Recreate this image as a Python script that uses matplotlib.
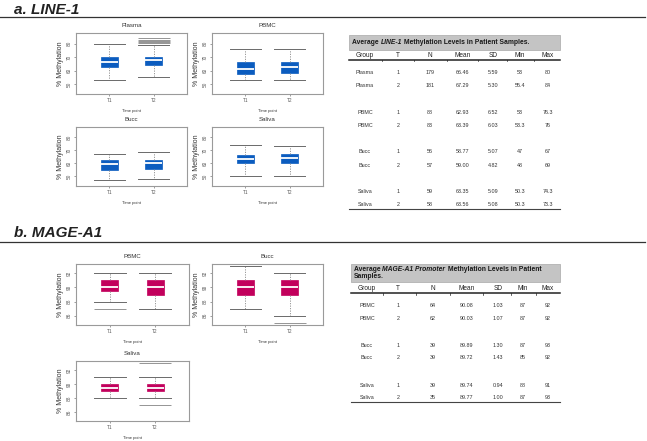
import matplotlib
matplotlib.use("Agg")
import matplotlib.pyplot as plt

W, H = 647, 441
plt.rcParams["font.family"] = ["Liberation Sans", "DejaVu Sans"]

timepoints = ["T1", "T2"]

# LINE-1 box summaries, one [T1, T2] pair per tissue
line1_tissues = ["Plasma", "PBMC", "Bucc", "Saliva"]
line1_whislo = [[53, 55], [53, 53.3], [47, 47.7], [50, 50]]
line1_q1 = [[62.5, 64], [57.5, 58.5], [55, 55.5], [60, 60.3]]
line1_med = [[66.5, 67.5], [61, 62.5], [59.5, 60.5], [63.5, 64]]
line1_q3 = [[70, 70], [66, 66.5], [62.5, 62.7], [66.7, 67.2]]
line1_whishi = [[80, 79.3], [76, 76], [67, 69], [74.5, 73.3]]
line1_fliers = [[[], [80.3, 81.2, 82.1, 83, 84]], [[], []], [[], []], [[], []]]

# MAGE-A1 box summaries
mage_tissues = ["PBMC", "Bucc", "Saliva"]
mage_whislo = [[88, 87], [87, 86], [88, 88]]
mage_q1 = [[89.5, 89], [89, 89], [89, 89]]
mage_med = [[90, 90], [90, 90], [89.5, 89.5]]
mage_q3 = [[91, 91], [91, 91], [90, 90]]
mage_whishi = [[92, 92], [93, 92], [91, 91]]
mage_fliers = [[[87], []], [[], [85]], [[], [87, 93]]]

# tables
table_cols = ["Group", "T", "N", "Mean", "SD", "Min", "Max"]
line1_rows = [
    ["Plasma", "1", "179", "66.46", "5.59", "53", "80"],
    ["Plasma", "2", "181", "67.29", "5.30", "55.4", "84"],
    ["PBMC", "1", "88", "62.93", "6.52", "53", "76.3"],
    ["PBMC", "2", "83", "63.39", "6.03", "53.3", "76"],
    ["Bucc", "1", "56", "58.77", "5.07", "47", "67"],
    ["Bucc", "2", "57", "59.00", "4.82", "48", "69"],
    ["Saliva", "1", "59", "63.35", "5.09", "50.3", "74.3"],
    ["Saliva", "2", "58", "63.56", "5.08", "50.3", "73.3"],
]
mage_rows = [
    ["PBMC", "1", "64", "90.08", "1.03", "87", "92"],
    ["PBMC", "2", "62", "90.03", "1.07", "87", "92"],
    ["Bucc", "1", "39", "89.89", "1.30", "87", "93"],
    ["Bucc", "2", "39", "89.72", "1.43", "85", "92"],
    ["Saliva", "1", "39", "89.74", "0.94", "88", "91"],
    ["Saliva", "2", "35", "89.77", "1.00", "87", "93"],
]

BLUE = "#0b5cbf"
MAGENTA = "#c2005c"
XLIM = (0.25, 2.75)
CAPW = 0.7

fig = plt.figure(figsize=(W / 100, H / 100), dpi=100)
ov = fig.add_axes([0, 0, 1, 1])
ov.set_xlim(0, W)
ov.set_ylim(H, 0)
ov.axis("off")
renderer = fig.canvas.get_renderer()


def px_axes(x0, y0, x1, y1):
    return fig.add_axes([x0 / W, 1 - y1 / H, (x1 - x0) / W, (y1 - y0) / H])


def box_panel(rect, title, color, lo, q1, med, q3, hi, fl, ylim, yticks):
    ax = px_axes(*rect)
    stats = [dict(whislo=lo[i], q1=q1[i], med=med[i], q3=q3[i], whishi=hi[i], fliers=fl[i])
             for i in range(2)]
    frame_px = rect[2] - rect[0]
    msize = CAPW * frame_px / (XLIM[1] - XLIM[0]) * 0.72
    ax.bxp(stats, positions=[1, 2], widths=0.38, patch_artist=True, capwidths=CAPW,
           boxprops=dict(facecolor=color, edgecolor=color, linewidth=0.5),
           medianprops=dict(color="white", linewidth=1.3),
           whiskerprops=dict(color="#8a8a8a", linestyle=(0, (1.5, 1.5)), linewidth=0.6),
           capprops=dict(color="#6a6a6a", linewidth=0.7),
           flierprops=dict(marker="_", markersize=msize, markeredgecolor="#6a6a6a",
                           markeredgewidth=0.5))
    ax.set_xlim(*XLIM)
    ax.set_ylim(*ylim)
    ax.set_yticks(yticks)
    ax.set_yticklabels([str(v) for v in yticks], rotation=90, va="center")
    ax.set_xticks([1, 2])
    ax.set_xticklabels(timepoints)
    ax.tick_params(labelsize=3.4, length=1.5, width=0.4, colors="#555555", pad=1.5)
    for s in ax.spines.values():
        s.set_color("#9a9a9a")
        s.set_linewidth(0.8)
    ax.set_title(title, fontsize=4.4, color="#333333", pad=4)
    ax.set_ylabel("% Methylation", fontsize=5, color="#333333", labelpad=2)
    ax.set_xlabel("Time point", fontsize=3, color="#333333", labelpad=4)
    return ax


# section headings
ov.text(14, 14, "a. LINE-1", fontsize=11, fontweight="bold", fontstyle="italic",
        color="#222222", va="baseline")
ov.plot([0, 645], [16.5, 16.5], color="#333333", lw=0.9)
ov.text(14, 237, "b. MAGE-A1", fontsize=11, fontweight="bold", fontstyle="italic",
        color="#222222", va="baseline")
ov.plot([0, 645], [241.5, 241.5], color="#333333", lw=0.9)

line1_rects = [(76, 33, 187, 94), (212, 33, 323, 94), (76, 127, 187, 186), (212, 127, 323, 186)]
for i, name in enumerate(line1_tissues):
    box_panel(line1_rects[i], name, BLUE, line1_whislo[i], line1_q1[i], line1_med[i],
              line1_q3[i], line1_whishi[i], line1_fliers[i], (42.5, 88), [50, 60, 70, 80])

mage_rects = [(76, 264, 189, 325), (212, 264, 323, 325), (76, 361, 189, 421)]
for i, name in enumerate(mage_tissues):
    box_panel(mage_rects[i], name, MAGENTA, mage_whislo[i], mage_q1[i], mage_med[i],
              mage_q3[i], mage_whishi[i], mage_fliers[i], (84.68, 93.32), [86, 88, 90, 92])


def run_text(x, y, pieces, **kw):
    # place styled pieces one after another on the same baseline
    for s, style in pieces:
        t = ov.text(x, y, s, fontstyle=style, **kw)
        x += t.get_window_extent(renderer).width


def draw_table(x0, x1, band_top, band_bot, title_lines, head_y, rows_y, bottom_y,
               col_x, rows):
    ov.fill_between([x0, x1], band_top, band_bot, color="#c4c4c4", ec="#a8a8a8", lw=0.5)
    for ly, pieces in title_lines:
        run_text(x0 + 3, ly, pieces, fontsize=4.85, fontweight="bold", color="#1a1a1a",
                 va="center")
    for cx, c in zip(col_x, table_cols):
        ov.text(cx, head_y, c, fontsize=4.7, ha="center", va="center", color="#222222")
    line_y = head_y + 4.5
    ov.plot([x0, x1], [line_y, line_y], color="#222222", lw=1.1)
    for a, b in zip(col_x[:-1], col_x[1:]):
        m = (a + b) / 2
        ov.plot([m, m], [line_y, line_y + 1.5], color="#222222", lw=0.5)
    for ry, row in zip(rows_y, rows):
        for cx, v in zip(col_x, row):
            ov.text(cx, ry, v, fontsize=3.9, ha="center", va="center", color="#333333")
    ov.plot([x0, x1], [bottom_y, bottom_y], color="#444444", lw=0.8)


line1_row_y = [72.3 + 13.3 * i + 13.2 * (i // 2) for i in range(len(line1_rows))]
draw_table(349, 560, 35, 49.5,
           [(42.5, [("Average ", "normal"), ("LINE-1", "italic"),
                    (" Methylation Levels in Patient Samples.", "normal")])],
           55.3, line1_row_y, 208.7, [365, 398, 430, 463, 493, 520, 548], line1_rows)

mage_row_y = [305.7 + 12.3 * i + 15.2 * (i // 2) for i in range(len(mage_rows))]
draw_table(351, 560, 264, 281.5,
           [(269.5, [("Average ", "normal"), ("MAGE-A1 Promoter", "italic"),
                     (" Methylation Levels in Patient", "normal")]),
            (277, [("Samples.", "normal")])],
           288.7, mage_row_y, 402.3, [367, 398, 433, 467, 498, 523, 548], mage_rows)

fig.savefig("out.png", dpi=100)
